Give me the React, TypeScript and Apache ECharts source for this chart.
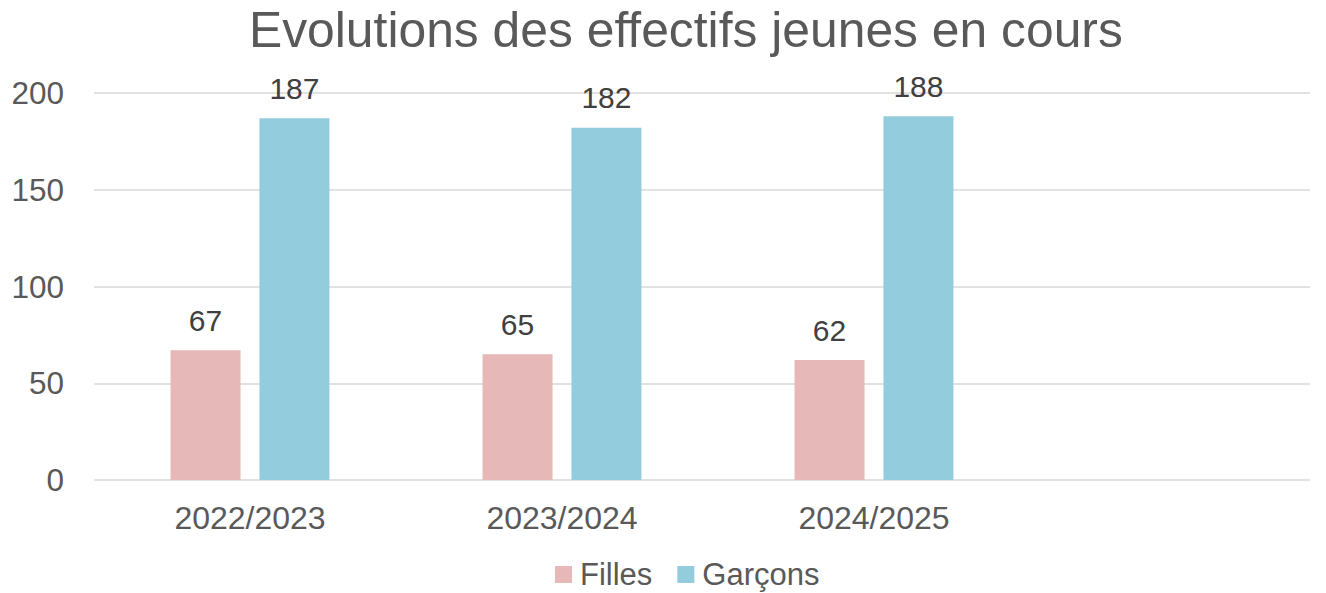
import React, { useEffect, useRef } from "react";
import * as echarts from "echarts";

const categories = ["2022/2023", "2023/2024", "2024/2025", ""];
const filles = [67, 65, 62, null];
const garcons = [187, 182, 188, null];
const yTicks = [0, 50, 100, 150, 200];

export default function App() {
  const ref = useRef<HTMLDivElement>(null);
  useEffect(() => {
    document.body.style.margin = "0";
    const chart = echarts.init(ref.current!, null, { renderer: "svg" });
    const font = "Liberation Sans, Arial, sans-serif";
    chart.setOption({
      animation: false,
      backgroundColor: "#ffffff",
      textStyle: { fontFamily: font },
      title: {
        text: "Evolutions des effectifs jeunes en cours",
        left: 244,
        top: 0,
        textStyle: { fontSize: 49.8, fontWeight: "normal", color: "#595959", fontFamily: font },
      },
      legend: {
        left: 555,
        top: 559,
        itemWidth: 17,
        itemHeight: 17,
        itemGap: 25,
        padding: 0,
        icon: "rect",
        textStyle: { fontSize: 31, lineHeight: 30, color: "#595959", fontFamily: font, padding: [0, 0, 0, 3] },
        data: ["Filles", "Garçons"],
      },
      grid: [
        { left: 94, top: 93, width: 1216, height: 387 },
        { left: 94, top: 93, width: 1248, height: 387 },
      ],
      xAxis: [
        { type: "category", gridIndex: 0, data: categories, show: false },
        {
          type: "category",
          gridIndex: 1,
          data: categories,
          axisLine: { show: false },
          axisTick: { show: false },
          axisLabel: { fontSize: 32, color: "#595959", margin: 22, fontFamily: font },
        },
      ],
      yAxis: [
        {
          type: "value",
          gridIndex: 0,
          min: yTicks[0],
          max: yTicks[yTicks.length - 1],
          interval: 50,
          axisLine: { show: false },
          axisTick: { show: false },
          axisLabel: { fontSize: 31.5, color: "#595959", margin: 30, fontFamily: font },
          splitLine: { lineStyle: { color: "#D9D9D9", width: 1.5 } },
        },
        {
          type: "value",
          gridIndex: 1,
          min: 0,
          max: 200,
          interval: 50,
          show: false,
          splitLine: { show: false },
        },
      ],
      series: [
        {
          name: "Filles",
          type: "bar",
          xAxisIndex: 1,
          yAxisIndex: 1,
          data: filles,
          barWidth: 70,
          barGap: "27%",
          itemStyle: { color: "#E6B9B8" },
          label: { show: true, position: "top", distance: 15, fontSize: 30, color: "#404040", fontFamily: font },
        },
        {
          name: "Garçons",
          type: "bar",
          xAxisIndex: 1,
          yAxisIndex: 1,
          data: garcons,
          barWidth: 70,
          barGap: "27%",
          itemStyle: { color: "#93CDDD" },
          label: { show: true, position: "top", distance: 15, fontSize: 30, color: "#404040", fontFamily: font },
        },
      ],
    });
    return () => chart.dispose();
  }, []);
  return (
    <div style={{ width: 1326, height: 593, overflow: "hidden", position: "relative" }}>
      <div ref={ref} style={{ width: 1360, height: 593 }} />
    </div>
  );
}
